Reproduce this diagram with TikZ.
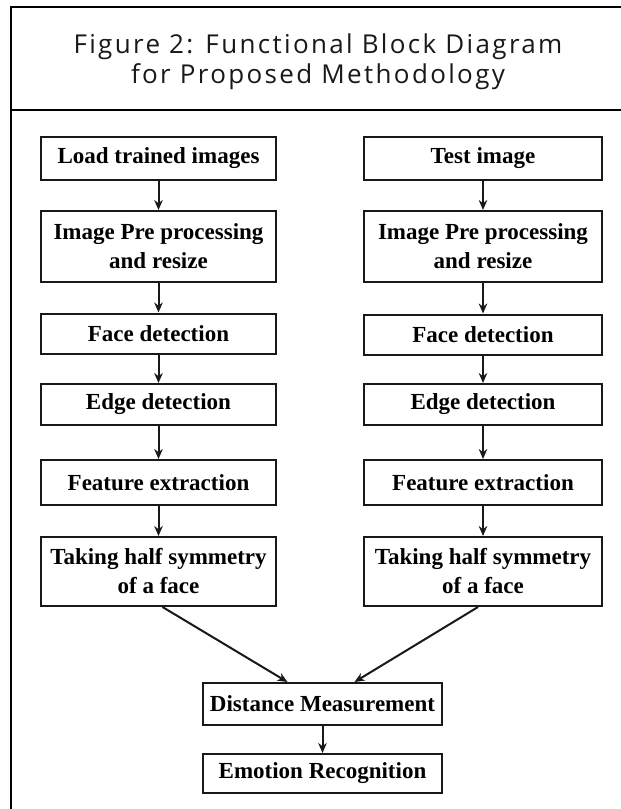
\documentclass[tikz,border=0pt]{standalone}
\usepackage{fontspec}
\setmainfont{Liberation Serif}
\newfontfamily\titlefont[LetterSpace=9]{Open Sans}
\usetikzlibrary{arrows.meta}

\tikzset{
    block/.style={draw=black!90, line width=2pt, align=center, inner sep=0pt,
        font=\fontsize{23}{29}\selectfont\bfseries},
    flow/.style={-{Stealth[length=10pt,width=8.5pt]}, line width=2pt, black!90},
    heading/.style={anchor=base, text=black!90, font=\titlefont\fontsize{26}{30}\selectfont}
}

\begin{document}
\begin{tikzpicture}[x=1pt,y=-1pt]
            \useasboundingbox (0,0) rectangle (621,809);
            \begin{scope}
                \draw[line width=1.6pt] (11,809) -- (11,7) -- (621,7);
                \draw[line width=2.4pt] (11,110) -- (621,110);
                \node[heading] (title1) at (318,53) {Figure 2: Functional Block Diagram};
                \node[heading] (title2) at (318,83) {for Proposed Methodology};
            \end{scope}
            \begin{scope}[every node/.append style={block, minimum width=235pt}]
                \node[minimum height=43pt] (load) at (158.5,158.5) {Load trained images};
                \node[minimum height=71pt] (lpre) at (158.5,246.5) {Image Pre processing\\and resize};
                \node[minimum height=40pt] (lface) at (158.5,333.5) {Face detection};
                \node[minimum height=41pt] (ledge) at (158.5,404.5) {Edge detection};
                \node[minimum height=45pt] (lfeat) at (158.5,482.5) {Feature extraction};
                \node[minimum height=69pt] (lhalf) at (158.5,571.5) {Taking half symmetry\\of a face};
            \end{scope}
            \begin{scope}[every node/.append style={block, minimum width=238pt}]
                \node[minimum height=43pt] (test) at (483,158.5) {Test image};
                \node[minimum height=71pt] (rpre) at (483,246.5) {Image Pre processing\\and resize};
                \node[minimum height=40pt] (rface) at (483,334.5) {Face detection};
                \node[minimum height=41pt] (redge) at (483,404.5) {Edge detection};
                \node[minimum height=45pt] (rfeat) at (483,482.5) {Feature extraction};
                \node[minimum height=69pt] (rhalf) at (483,571.5) {Taking half symmetry\\of a face};
            \end{scope}
            \node[block, minimum width=239pt, minimum height=42pt] (dist) at (322.5,704) {Distance Measurement};
            \node[block, minimum width=239pt, minimum height=39pt] (emo) at (322.5,773.5) {Emotion Recognition};
            \draw[flow] (load) -- (lpre);
            \draw[flow] (lpre) -- (lface);
            \draw[flow] (lface) -- (ledge);
            \draw[flow] (ledge) -- (lfeat);
            \draw[flow] (lfeat) -- (lhalf);
            \draw[flow] (test) -- (rpre);
            \draw[flow] (rpre) -- (rface);
            \draw[flow] (rface) -- (redge);
            \draw[flow] (redge) -- (rfeat);
            \draw[flow] (rfeat) -- (rhalf);
            \draw[flow] ([xshift=4pt]lhalf.south) -- ([xshift=-35pt]dist.north);
            \draw[flow] ([xshift=-5pt]rhalf.south) -- ([xshift=32pt]dist.north);
            \draw[flow] (dist) -- (emo);
        \end{tikzpicture}
\end{document}
